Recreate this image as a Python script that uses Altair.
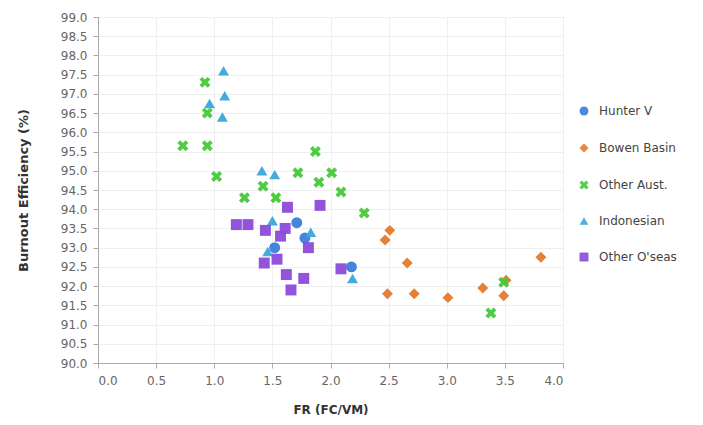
import altair as alt
import pandas as pd

series_names = ["Hunter V", "Bowen Basin", "Other Aust.", "Indonesian", "Other O'seas"]

hunter_x = [1.71, 1.78, 2.18, 1.52]
hunter_y = [93.65, 93.25, 92.5, 93.0]

bowen_x = [2.51, 2.47, 2.66, 2.49, 2.72, 3.01, 3.31, 3.49, 3.81, 3.51]
bowen_y = [93.45, 93.2, 92.6, 91.8, 91.8, 91.7, 91.95, 91.75, 92.75, 92.15]

aust_x = [0.92, 0.94, 0.73, 0.94, 1.02, 1.26, 1.42, 1.53, 1.72, 1.87, 1.90, 2.01, 2.09, 2.29, 3.38, 3.49]
aust_y = [97.3, 96.5, 95.65, 95.65, 94.85, 94.3, 94.6, 94.3, 94.95, 95.5, 94.7, 94.95, 94.45, 93.9, 91.3, 92.1]

indo_x = [1.08, 1.09, 1.07, 0.96, 1.41, 1.52, 1.50, 1.46, 1.83, 2.19]
indo_y = [97.6, 96.95, 96.4, 96.75, 95.0, 94.9, 93.7, 92.9, 93.4, 92.2]

oseas_x = [1.19, 1.29, 1.44, 1.57, 1.63, 1.43, 1.54, 1.62, 1.77, 1.66, 1.81, 1.61, 2.09, 1.91]
oseas_y = [93.6, 93.6, 93.45, 93.3, 94.05, 92.6, 92.7, 92.3, 92.2, 91.9, 93.0, 93.5, 92.45, 94.1]

y_ticks = [90 + 0.5 * i for i in range(19)]
x_ticks = [0.0, 0.5, 1.0, 1.5, 2.0, 2.5, 3.0, 3.5, 4.0]

colors = ["#3b7dd8", "#e07a2c", "#46c93a", "#3aa8d8", "#8b4bd8"]
x_path = "M-1,-0.5L-0.5,-1L0,-0.5L0.5,-1L1,-0.5L0.5,0L1,0.5L0.5,1L0,0.5L-0.5,1L-1,0.5L-0.5,0Z"
shapes = ["circle", "diamond", x_path, "triangle-up", "square"]

rows = []
for name, xs, ys in zip(series_names,
                        [hunter_x, bowen_x, aust_x, indo_x, oseas_x],
                        [hunter_y, bowen_y, aust_y, indo_y, oseas_y]):
    for a, b in zip(xs, ys):
        rows.append({"FR": a, "Eff": b, "Source": name})
df = pd.DataFrame(rows)

font = "DejaVu Sans"

chart = alt.Chart(df).mark_point(filled=True, size=120, opacity=0.95).encode(
    x=alt.X("FR:Q", title="FR (FC/VM)",
            scale=alt.Scale(domain=[0, 4], nice=False),
            axis=alt.Axis(values=x_ticks, format=".1f", labelFontSize=12,
                          labelColor="#666", titleFontSize=12, titleFontWeight="bold",
                          titleColor="#333", titlePadding=18, tickSize=5,
                          tickColor="#aaa", domainColor="#aaa", gridColor="#efefef",
                          labelFont=font, titleFont=font, labelPadding=7)),
    y=alt.Y("Eff:Q", title="Burnout Efficiency (%)",
            scale=alt.Scale(domain=[90, 99], nice=False, zero=False),
            axis=alt.Axis(values=y_ticks, format=".1f", labelFontSize=12,
                          labelColor="#666", titleFontSize=13, titleFontWeight="bold",
                          titleColor="#333", titlePadding=30, tickSize=5,
                          tickColor="#aaa", domainColor="#aaa", gridColor="#efefef",
                          labelFont=font, titleFont=font, labelPadding=6)),
    color=alt.Color("Source:N", scale=alt.Scale(domain=series_names, range=colors),
                    legend=alt.Legend(title=None, orient="none", legendX=480, legendY=88,
                                      labelFontSize=12, labelColor="#444", labelFont=font,
                                      labelOffset=9, rowPadding=21, symbolSize=80,
                                      symbolOpacity=1)),
    shape=alt.Shape("Source:N", scale=alt.Scale(domain=series_names, range=shapes)),
).properties(
    width=465, height=346,
    autosize=alt.AutoSizeParams(type="none"),
    padding={"left": 90, "top": 9, "right": 130, "bottom": 52},
).configure_view(stroke="#b5b5b5")

chart.save("out.html", embed_options={"renderer": "svg", "actions": False})
